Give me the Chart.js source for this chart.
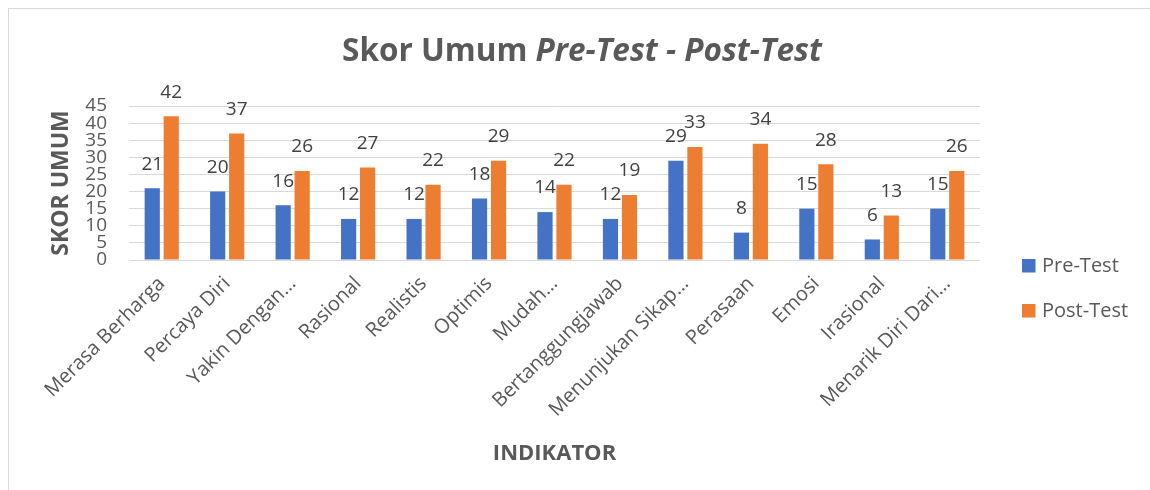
<!DOCTYPE html>
<html><head><meta charset="utf-8">
<script src="https://cdn.jsdelivr.net/npm/chart.js@4.4.0/dist/chart.umd.min.js"></script>
<style>
html,body{margin:0;padding:0;background:#fff;width:1150px;height:490px;overflow:hidden;}
#frame{position:absolute;left:8px;top:8px;width:1200px;height:600px;border:1px solid #d9d9d9;box-sizing:border-box;}
#cap{position:absolute;left:0;width:1210px;top:-24.5px;text-align:center;font:22px 'Open Sans';color:#7f7f7f;white-space:nowrap;}
#wrap{position:absolute;left:0;top:0;width:1150px;height:490px;}
</style></head><body>
<div id="cap">Grafik 1. Skor Umum Pre-Test dan Post-Test</div>
<div id="frame"></div>
<div id="wrap"><canvas id="c" width="1150" height="490"></canvas></div>
<script>
const categories = ['Merasa Berharga','Percaya Diri','Yakin Dengan…','Rasional','Realistis','Optimis','Mudah…','Bertanggungjawab','Menunjukan Sikap…','Perasaan','Emosi','Irasional','Menarik Diri Dari…'];
const preTest  = [21,20,16,12,12,18,14,12,29,8,15,6,15];
const postTest = [42,37,26,27,22,29,22,19,33,34,28,13,26];
const seriesNames = ['Pre-Test','Post-Test'];
const seriesColors = ['#4472C4','#ED7D31'];
const yMin = 0, yMax = 45, yStep = 5;
const titleParts = ['Skor Umum ', 'Pre-Test - Post-Test'];
const yTitle = 'SKOR UMUM';
const xTitle = 'INDIKATOR';

const FONT = "'Open Sans', 'Noto Sans', sans-serif";
const TXT = '#595959';

const titlePlugin = {
  id: 'mixedTitle',
  afterDraw(chart) {
    const ctx = chart.ctx;
    ctx.save();
    const f1 = `bold 31.5px ${FONT}`, f2 = `italic bold 31.5px ${FONT}`;
    ctx.font = f1; const w1 = ctx.measureText(titleParts[0]).width;
    ctx.font = f2; const w2 = ctx.measureText(titleParts[1]).width;
    let x = 582 - (w1 + w2) / 2;
    const y = 61;
    ctx.fillStyle = TXT; ctx.textBaseline = 'alphabetic'; ctx.textAlign = 'left';
    ctx.font = f1; ctx.fillText(titleParts[0], x, y);
    ctx.font = f2; ctx.fillText(titleParts[1], x + w1, y);
    ctx.restore();
  }
};

const valueLabels = {
  id: 'valueLabels',
  afterDatasetsDraw(chart) {
    const ctx = chart.ctx;
    ctx.save();
    ctx.font = `19px ${FONT}`;
    ctx.fillStyle = '#404040';
    ctx.textAlign = 'center';
    ctx.textBaseline = 'middle';
    chart.data.datasets.forEach((ds, di) => {
      const meta = chart.getDatasetMeta(di);
      meta.data.forEach((el, i) => {
        ctx.fillText(String(ds.data[i]), el.x, el.y - 24);
      });
    });
    ctx.restore();
  }
};

const sideLegend = {
  id: 'sideLegend',
  afterDraw(chart) {
    const ctx = chart.ctx;
    ctx.save();
    ctx.font = `20px ${FONT}`;
    ctx.textBaseline = 'middle';
    ctx.textAlign = 'left';
    const boxX = chart.chartArea.right + 42;
    const ys = [266, 311];
    chart.data.datasets.forEach((ds, i) => {
      ctx.fillStyle = ds.backgroundColor;
      ctx.fillRect(boxX, ys[i] - 7, 13.5, 13.5);
      ctx.fillStyle = TXT;
      ctx.fillText(ds.label, boxX + 20, ys[i]);
    });
    ctx.restore();
  }
};

new Chart(document.getElementById('c'), {
  type: 'bar',
  data: {
    labels: categories,
    datasets: [
      { label: seriesNames[0], data: preTest, backgroundColor: seriesColors[0], categoryPercentage: 0.58, barPercentage: 0.8 },
      { label: seriesNames[1], data: postTest, backgroundColor: seriesColors[1], categoryPercentage: 0.58, barPercentage: 0.8 }
    ]
  },
  options: {
    responsive: false,
    animation: false,
    devicePixelRatio: 1,
    layout: { padding: { left: 48, top: 106, right: 170, bottom: 22 } },
    plugins: { legend: { display: false }, title: { display: false }, tooltip: { enabled: false } },
    scales: {
      x: {
        grid: { display: false },
        border: { display: false },
        ticks: { color: TXT, font: { family: FONT, size: 20 }, minRotation: 45, maxRotation: 45, autoSkip: false, padding: 4 },
        title: { display: true, text: xTitle, color: TXT, font: { family: FONT, size: 22, weight: 'bold' }, padding: { top: 0, bottom: 1 } },
        afterFit(s) { s.height = 208; }
      },
      y: {
        min: yMin, max: yMax,
        ticks: { stepSize: yStep, autoSkip: false, padding: 22, color: TXT, font: { family: FONT, size: 19 } },
        grid: { color: '#d9d9d9', lineWidth: 1, drawTicks: false },
        border: { display: false },
        title: { display: true, text: yTitle, color: TXT, font: { family: FONT, size: 23, weight: 'bold' }, padding: { top: 0, bottom: 0 } },
        afterFit(s) { s.width = 81; }
      }
    }
  },
  plugins: [titlePlugin, valueLabels, sideLegend]
});
</script>
</body></html>
